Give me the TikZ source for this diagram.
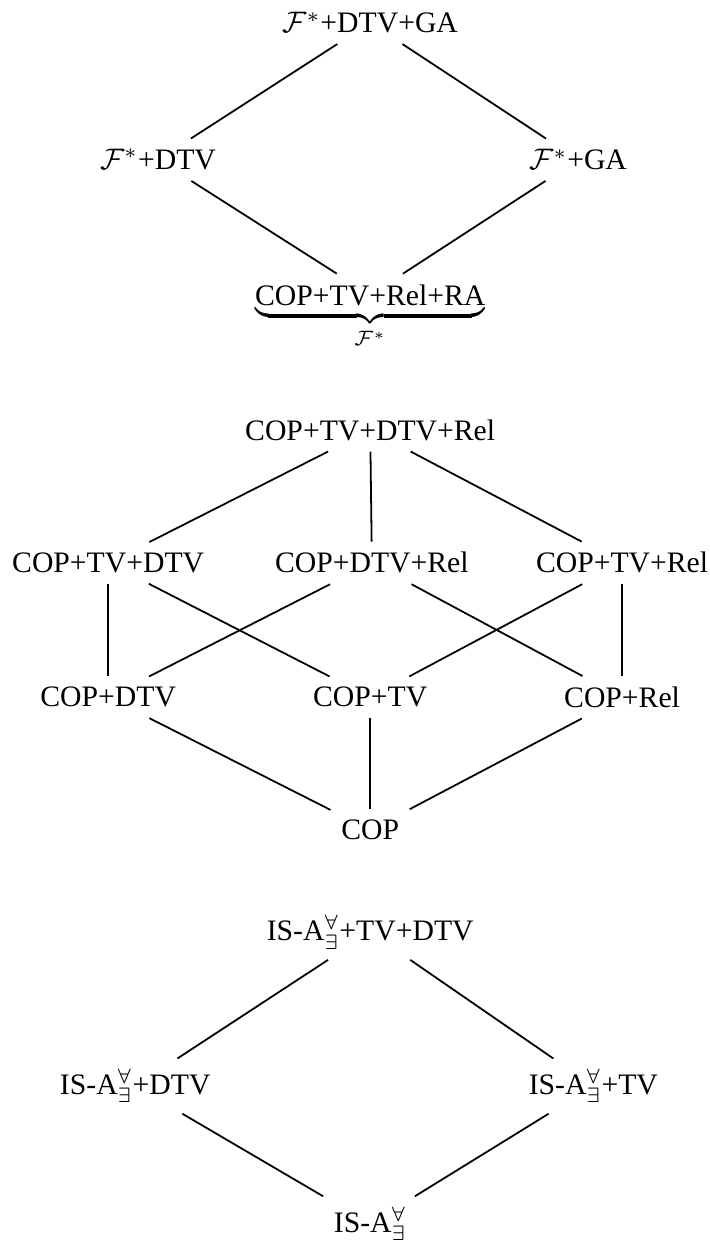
\documentclass[tikz,border=0pt]{standalone}
\usepackage{fontspec}
\setmainfont{Liberation Serif}
\usetikzlibrary{positioning}

\newcommand{\isa}{IS-A$^{\forall}_{\exists}$}

\begin{document}
\begin{tikzpicture}[line width=0.6pt]
      \useasboundingbox (0,0) rectangle (8.40,-14.73);

      % Extensions of F*
      \node (fdg) at (4.38,-0.27) {$\mathcal{F}^*$+DTV+GA};
      \node (fd) at (1.87,-1.89) {$\mathcal{F}^*$+DTV};
      \node (fg) at (6.84,-1.89) {$\mathcal{F}^*$+GA};
      \node (f) at (4.38,-3.49) {COP+TV+Rel+RA};
      \node [anchor=base, inner sep=0pt] (fbrace) at (f.base)
            {$\underbrace{\hphantom{\mbox{COP+TV+Rel+RA}}}_{\mathcal{F}^*}$};

      \draw (fdg) -- (fd);
      \draw (fdg) -- (fg);
      \draw (fd) -- (f);
      \draw (fg) -- (f);

      % Fragments over COP
      \node (ctdr) at (4.38,-5.09) {COP+TV+DTV+Rel};
      \node (ctd) at (1.28,-6.66) {COP+TV+DTV};
      \node (cdr) at (4.40,-6.66) {COP+DTV+Rel};
      \node (ctr) at (7.36,-6.66) {COP+TV+Rel};
      \node (cd) at (1.28,-8.25) {COP+DTV};
      \node (ct) at (4.38,-8.25) {COP+TV};
      \node (cr) at (7.36,-8.25) {COP+Rel};
      \node (c) at (4.38,-9.82) {COP};

      \draw (ctdr) -- (ctd);
      \draw (ctdr) -- (cdr);
      \draw (ctdr) -- (ctr);
      \draw (ctd) -- (cd);
      \draw (ctd) -- (ct);
      \draw (cdr) -- (cd);
      \draw (cdr) -- (cr);
      \draw (ctr) -- (ct);
      \draw (ctr) -- (cr);
      \draw (cd) -- (c);
      \draw (ct) -- (c);
      \draw (cr) -- (c);

      % Fragments over IS-A
      \node (itd) at (4.38,-11.03) {\isa+TV+DTV};
      \node (id) at (1.60,-12.85) {\isa+DTV};
      \node (it) at (7.02,-12.85) {\isa+TV};
      \node (i) at (4.38,-14.48) {\isa};

      \draw (itd) -- (id);
      \draw (itd) -- (it);
      \draw (id) -- (i);
      \draw (it) -- (i);
    \end{tikzpicture}
\end{document}
